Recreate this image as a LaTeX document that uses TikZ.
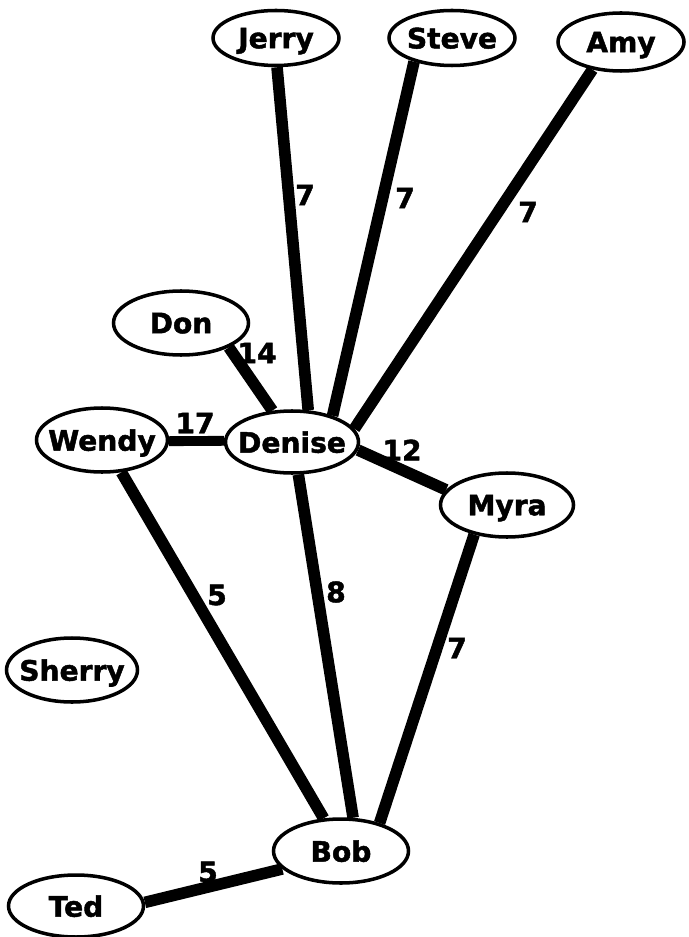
\documentclass[tikz,border=0pt]{standalone}
\usepackage{fontspec}
\setmainfont{DejaVu Sans}
\newfontfamily\heavyfont[FakeBold=1.6]{DejaVu Sans Bold}
\usepackage{tikz}
\usetikzlibrary{shapes.geometric, backgrounds}

% names take no room (and no depth), so the ellipse keeps its set size
\newcommand{\pname}[1]{\makebox[0pt]{\raisebox{0pt}[\height][0pt]{#1}}}

\begin{document}
\begin{tikzpicture}[
  person/.style={draw, ellipse, line width=2pt, fill=white, inner sep=0pt,
                 minimum width=2.7cm, minimum height=1.28cm,
                 font=\fontsize{16}{19}\heavyfont},
  top/.style={minimum width=2.52cm, minimum height=1.1cm},
  link/.style={line width=6.6pt},
  weight/.style={font=\fontsize{16}{19}\heavyfont}
]
  \useasboundingbox (0,0) rectangle (13.76,-18.74);

  % the people
  \node[person, top] (Jerry)  at (5.52,-0.76)  {\pname{Jerry}};
  \node[person, top] (Steve)  at (9.04,-0.76)  {\pname{Steve}};
  \node[person, top, minimum height=1.16cm] (Amy) at (12.42,-0.84) {\pname{Amy}};
  \node[person] (Don)    at (3.62,-6.46)  {\pname{Don}};
  \node[person, minimum width=2.62cm] (Wendy) at (2.04,-8.80) {\pname{Wendy}};
  \node[person, minimum width=2.66cm, minimum height=1.24cm] (Denise) at (5.84,-8.84) {\pname{Denise}};
  \node[person, minimum width=2.66cm] (Myra) at (10.14,-10.10) {\pname{Myra}};
  \node[person, minimum width=2.62cm] (Sherry) at (1.44,-13.40) {\pname{Sherry}};
  \node[person] (Bob)    at (6.82,-17.02) {\pname{Bob}};
  \node[person, minimum height=1.24cm] (Ted) at (1.52,-18.12) {\pname{Ted}};

  % the links, behind the people
  \begin{scope}[on background layer]
    \draw[link] (Jerry.-88)  -- (Denise.63);
    \draw[link] (Steve.-148) -- (Denise.33);
    \draw[link] (Amy.-136)   -- (Denise.12);
    \draw[link] (Don.-27)    -- (Denise.122);
    \draw[link, line width=5.6pt] (Wendy.-1) -- (Denise.179);
    \draw[link] (Denise.-7)  -- (Myra.166);
    \draw[link] (Wendy.-59)  -- (Bob.118);
    \draw[link] (Denise.-79) -- (Bob.70);
    \draw[link] (Myra.-138)  -- (Bob.36);
    \draw[link] (Ted.3)      -- (Bob.-163);
  \end{scope}

  % the weights
  \node[weight] (wJerry)  at (6.10,-3.90)  {7};
  \node[weight] (wSteve)  at (8.10,-3.96)  {7};
  \node[weight] (wAmy)    at (10.56,-4.24) {7};
  \node[weight] (wDon)    at (5.14,-7.06)  {14};
  \node[weight] (wWendy)  at (3.90,-8.46)  {17};
  \node[weight] (wMyra)   at (8.04,-9.00)  {12};
  \node[weight] (wWBob)   at (4.34,-11.90) {5};
  \node[weight] (wDBob)   at (6.72,-11.84) {8};
  \node[weight] (wMBob)   at (9.14,-12.96) {7};
  \node[weight] (wTed)    at (4.16,-17.44) {5};
\end{tikzpicture}
\end{document}
